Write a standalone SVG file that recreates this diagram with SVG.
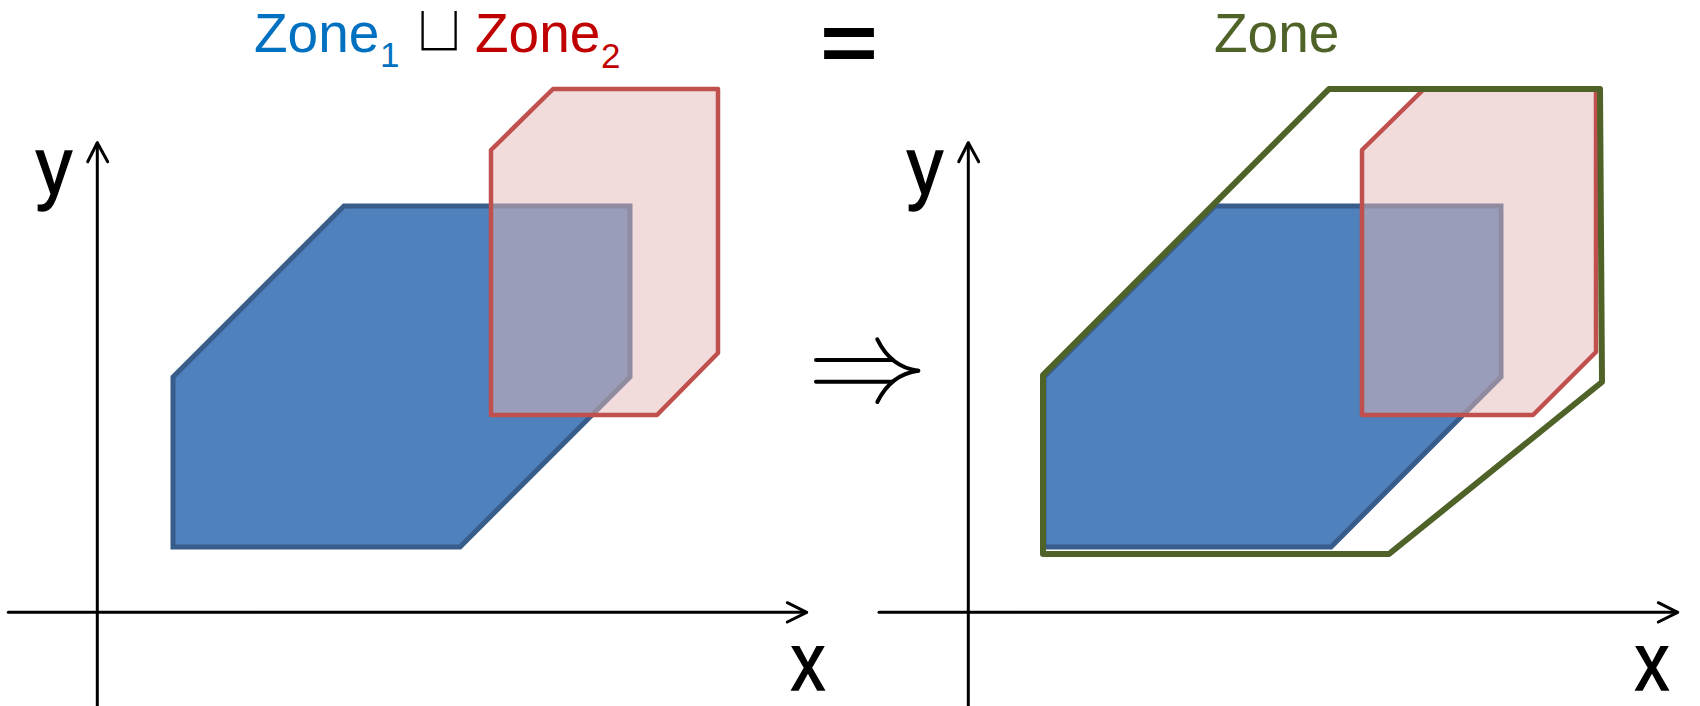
<svg xmlns="http://www.w3.org/2000/svg" width="1700" height="706" viewBox="0 0 1700 706">
<style>
.axis{fill:none;stroke:#000;stroke-width:3;stroke-linecap:round;stroke-linejoin:round}
.blue{fill:#4F81BD;stroke:#385D8A;stroke-width:5;stroke-linejoin:miter}
.red{fill:#E6B9B8;fill-opacity:0.5;stroke:#C0504D;stroke-width:4.5;stroke-linejoin:round}
.green{fill:none;stroke:#4F6228;stroke-width:6;stroke-linejoin:round}
.lbl{font-family:"Liberation Sans",Arial,sans-serif;font-size:81px;fill:#000;stroke:#000;stroke-width:1.6}
.title{font-family:"Liberation Sans",Arial,sans-serif;font-size:55px}
.sub{font-family:"Liberation Sans",Arial,sans-serif;font-size:35px}
.imp{fill:none;stroke:#000;stroke-width:4;stroke-linecap:round}
</style>
<g id="title-left">
<text class="title" x="254" y="52.3" fill="#0070C0">Zone</text>
<text class="sub" x="380" y="66.7" fill="#0070C0">1</text>
<text x="439" y="52" text-anchor="middle" font-family="DejaVu Sans,sans-serif" font-size="68" fill="#000" stroke="#fff" stroke-width="3.2">⊔</text>
<text class="title" x="475" y="52.3" fill="#C00000">Zone</text>
<text class="sub" x="601" y="68" fill="#C00000">2</text>
</g>
<g id="equals">
<text x="849" y="71" text-anchor="middle" font-family="Liberation Sans,Arial,sans-serif" font-weight="bold" font-size="82" textLength="58" lengthAdjust="spacingAndGlyphs" fill="#000">=</text>
</g>
<g id="title-right">
<text class="title" x="1214" y="52.3" fill="#4F6228">Zone</text>
</g>
<g id="left-axes">
<line class="axis" x1="97.3" y1="706" x2="97.3" y2="143"/>
<polyline class="axis" points="87.7,161.7 97.3,142.7 107.7,161.7"/>
<line class="axis" x1="8.3" y1="612.3" x2="806" y2="612.3"/>
<polyline class="axis" points="787.3,602.7 806.7,612.3 787.3,622"/>
<text class="lbl" x="54" y="194" text-anchor="middle" textLength="36" lengthAdjust="spacingAndGlyphs">y</text>
<text class="lbl" x="808" y="690" text-anchor="middle" textLength="34" lengthAdjust="spacingAndGlyphs">x</text>
</g>
<g id="left-zone1">
<polygon class="blue" points="173,377 344,206 630,206 630,377 460,547 173,547"/>
</g>
<g id="left-zone2">
<polygon class="red" points="491,150 553,89 718,89 718,353 657,415 491,415"/>
</g>
<g id="right-axes">
<line class="axis" x1="968.3" y1="706" x2="968.3" y2="143"/>
<polyline class="axis" points="958.7,161.7 968.3,142.7 978.7,161.7"/>
<line class="axis" x1="879" y1="612.3" x2="1677" y2="612.3"/>
<polyline class="axis" points="1658.3,602.7 1677.7,612.3 1658.3,622"/>
<text class="lbl" x="925" y="194" text-anchor="middle" textLength="36" lengthAdjust="spacingAndGlyphs">y</text>
<text class="lbl" x="1652" y="690" text-anchor="middle" textLength="34" lengthAdjust="spacingAndGlyphs">x</text>
</g>
<g id="right-zone1">
<polygon class="blue" points="1044,377 1215,206 1501,206 1501,377 1331,547 1044,547"/>
</g>
<g id="right-zone2">
<polygon class="red" points="1362,150 1424,89 1596,89 1596,352 1533,415 1362,415"/>
</g>
<g id="right-zone">
<polygon class="green" points="1043,375 1329,89 1600,89 1602,382 1389,554 1043,554"/>
</g>
<g id="connectors">
<line class="imp" x1="816" y1="360" x2="892" y2="360"/>
<line class="imp" x1="816" y1="381.7" x2="892" y2="381.7"/>
<path class="imp" d="M877.3,339.3 C885,355 897,368 918.3,370.7"/>
<path class="imp" d="M877.3,402 C885,386.4 897,373.4 918.3,370.7"/>
</g>
</svg>
